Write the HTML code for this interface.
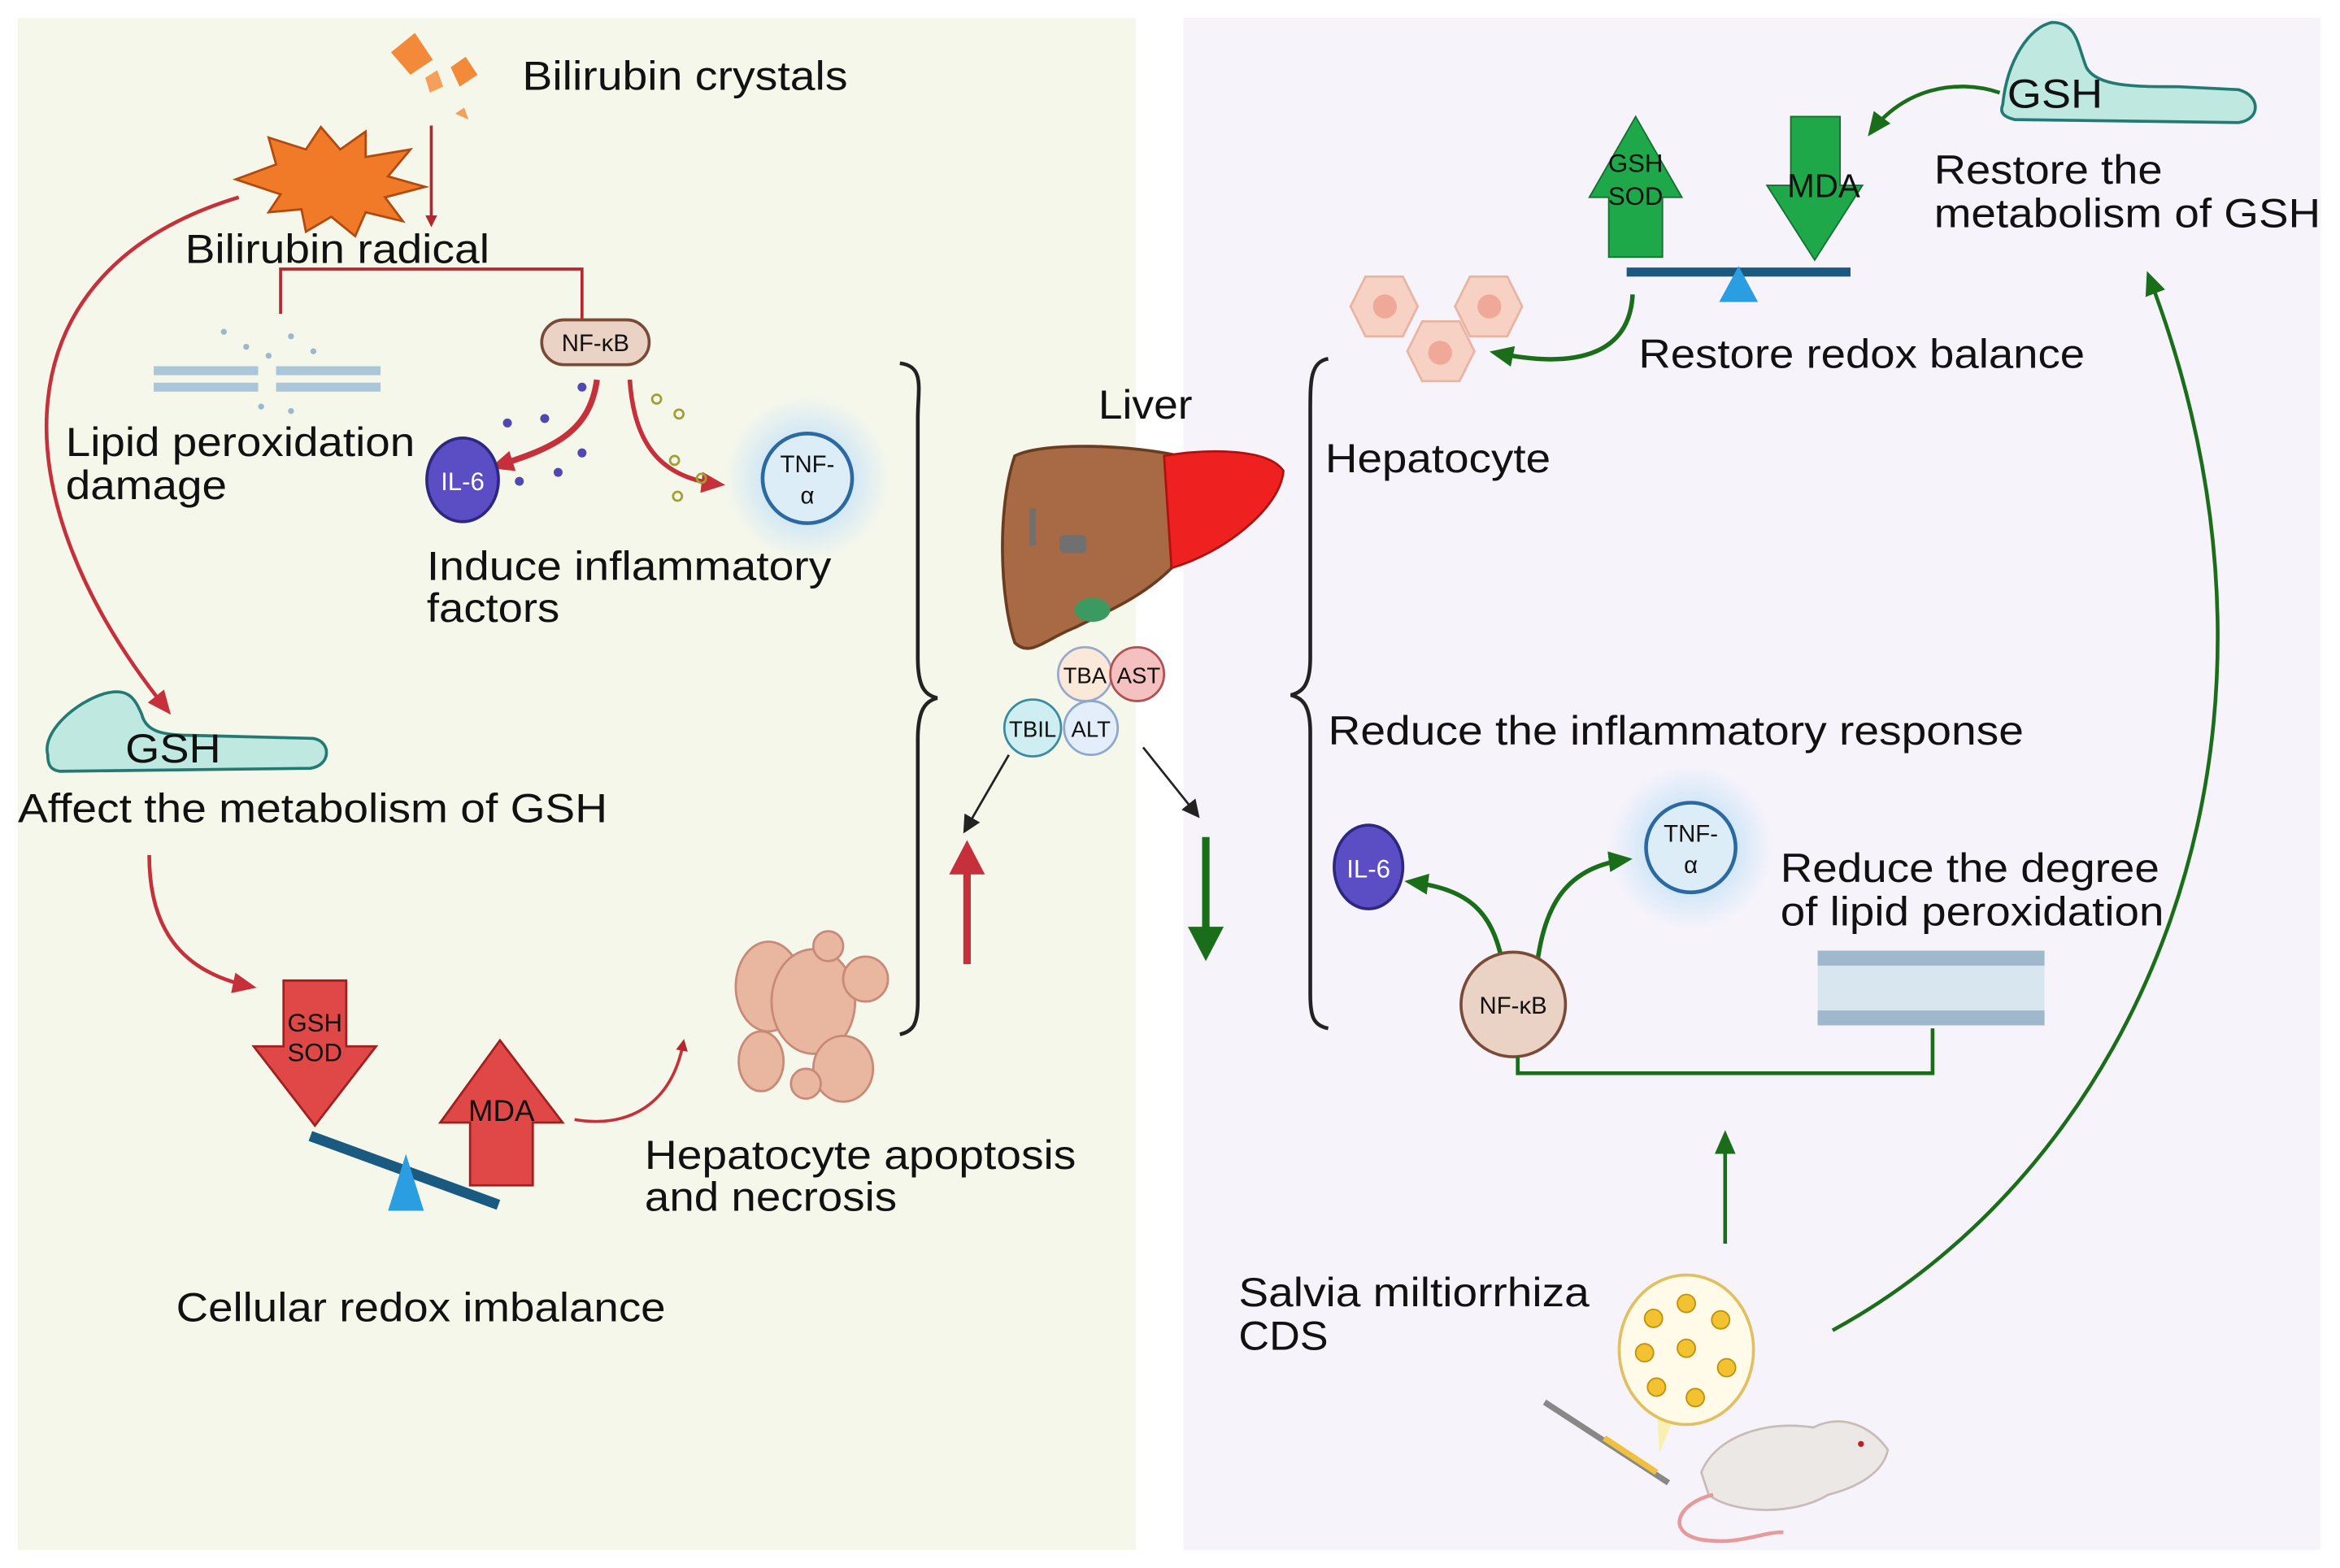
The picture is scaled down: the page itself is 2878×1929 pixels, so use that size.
<!DOCTYPE html>
<html><head><meta charset="utf-8"><style>
html,body{margin:0;padding:0;background:#fff;}
svg{display:block;}
text{font-family:"Liberation Sans",sans-serif;fill:#111;}
</style></head><body>
<svg width="2878" height="1929" viewBox="0 0 1568 1049" preserveAspectRatio="none" xmlns="http://www.w3.org/2000/svg">
<defs>
<marker id="ar" markerWidth="8" markerHeight="8" refX="6" refY="4" orient="auto" markerUnits="userSpaceOnUse"><path d="M0,0 L8,4 L0,8 Z" fill="#b5262f"/></marker>
<marker id="arB" markerWidth="16" markerHeight="14" refX="12" refY="7" orient="auto" markerUnits="userSpaceOnUse"><path d="M0,0 L16,7 L0,14 Z" fill="#c5303a"/></marker>
<marker id="ag" markerWidth="16" markerHeight="14" refX="12" refY="7" orient="auto" markerUnits="userSpaceOnUse"><path d="M0,0 L16,7 L0,14 Z" fill="#1a6e1a"/></marker>
<marker id="ak" markerWidth="12" markerHeight="12" refX="9" refY="6" orient="auto" markerUnits="userSpaceOnUse"><path d="M0,0 L12,6 L0,12 Z" fill="#222"/></marker>
<radialGradient id="glow"><stop offset="0.5" stop-color="#cfe6f7"/><stop offset="1" stop-color="#cfe6f7" stop-opacity="0"/></radialGradient>
</defs>
<rect x="12" y="12" width="749" height="1025" fill="#f5f7eb"/>
<rect x="793" y="12" width="762" height="1025" fill="#f6f3fb"/>

<path d="M262,35 L278,22 L290,40 L275,50 Z" fill="#f28a3a"/>
<path d="M302,45 L312,38 L320,50 L308,58 Z" fill="#f28a3a"/>
<path d="M285,52 L293,47 L297,58 L288,62Z" fill="#f5a05a"/>
<path d="M305,76 L311,72 L314,80 Z" fill="#f5a05a"/>
<text x="350" y="60" font-size="27" textLength="218" lengthAdjust="spacingAndGlyphs">Bilirubin crystals</text>
<line x1="289" y1="84" x2="289" y2="150" stroke="#b5262f" stroke-width="2" marker-end="url(#ar)"/>
<path d="M158,120 L185,110 L180,92 L205,100 L215,85 L228,100 L245,88 L245,105 L275,100 L260,118 L285,125 L258,132 L270,148 L245,142 L238,158 L222,145 L205,155 L202,140 L180,142 L188,130 Z" fill="#f07a28" stroke="#b04a10" stroke-width="1.5"/>
<text x="124" y="176" font-size="27" textLength="204" lengthAdjust="spacingAndGlyphs">Bilirubin radical</text>
<path d="M188,210 L188,180 L390,180 L390,214" fill="none" stroke="#b5262f" stroke-width="2"/>
<rect x="363" y="214" width="72" height="30" rx="15" fill="#ead2c4" stroke="#7a4a38" stroke-width="2"/>
<text x="399" y="235" font-size="16" text-anchor="middle">NF-κB</text>
<g fill="#a9c7d8"><rect x="103" y="245" width="70" height="6"/><rect x="103" y="256" width="70" height="6"/><rect x="185" y="245" width="70" height="6"/><rect x="185" y="256" width="70" height="6"/></g>
<g fill="#9bb8cc"><circle cx="150" cy="222" r="2"/><circle cx="165" cy="232" r="2"/><circle cx="195" cy="225" r="2"/><circle cx="210" cy="235" r="2"/><circle cx="180" cy="238" r="2"/><circle cx="175" cy="272" r="2"/><circle cx="195" cy="275" r="2"/></g>
<text x="44" y="305" font-size="27" textLength="234" lengthAdjust="spacingAndGlyphs">Lipid peroxidation</text>
<text x="44" y="334" font-size="27" textLength="108" lengthAdjust="spacingAndGlyphs">damage</text>
<path d="M400,254 C395,290 370,300 332,312" fill="none" stroke="#c5303a" stroke-width="4" marker-end="url(#arB)"/>
<path d="M422,254 C425,300 445,320 482,324" fill="none" stroke="#c5303a" stroke-width="3" marker-end="url(#arB)"/>
<g fill="#5048b0"><circle cx="340" cy="283" r="3"/><circle cx="365" cy="280" r="3"/><circle cx="348" cy="322" r="3"/><circle cx="374" cy="316" r="3"/><circle cx="390" cy="303" r="3"/><circle cx="390" cy="259" r="3"/></g>
<g fill="none" stroke="#a0a030" stroke-width="1.5"><circle cx="440" cy="267" r="3"/><circle cx="455" cy="277" r="3"/><circle cx="452" cy="308" r="3"/><circle cx="470" cy="320" r="3"/><circle cx="454" cy="332" r="3"/></g>
<ellipse cx="310" cy="321" rx="24" ry="28" fill="#5b4dc4" stroke="#2e2780" stroke-width="2"/>
<text x="310" y="328" font-size="17" style="fill:#fff" text-anchor="middle">IL-6</text>
<circle cx="541" cy="320" r="55" fill="url(#glow)"/>
<circle cx="541" cy="320" r="30" fill="#dcedf8" stroke="#2a6aa0" stroke-width="2.5"/>
<text x="541" y="316" font-size="16" text-anchor="middle">TNF-</text>
<text x="541" y="337" font-size="16" text-anchor="middle">α</text>
<text x="286" y="388" font-size="27" textLength="271" lengthAdjust="spacingAndGlyphs">Induce inflammatory</text>
<text x="286" y="416" font-size="27" textLength="89" lengthAdjust="spacingAndGlyphs">factors</text>
<path d="M160,132 C0,180 -5,330 112,475" fill="none" stroke="#c5303a" stroke-width="2.5" marker-end="url(#arB)"/>
<path d="M32,505 C28,490 50,470 70,464 C85,460 90,466 95,478 C98,490 110,492 130,492 L210,494 C222,496 222,512 208,514 L40,516 C34,515 32,512 32,505 Z" fill="#bfe8e0" stroke="#237a72" stroke-width="2"/>
<text x="84" y="510" font-size="27" textLength="64" lengthAdjust="spacingAndGlyphs">GSH</text>
<text x="12" y="550" font-size="27" textLength="395" lengthAdjust="spacingAndGlyphs">Affect the metabolism of GSH</text>
<path d="M100,572 C100,620 120,650 168,660" fill="none" stroke="#c5303a" stroke-width="2.5" marker-end="url(#arB)"/>
<path d="M190,656 L232,656 L232,700 L252,700 L211,753 L170,700 L190,700 Z" fill="#e04848" stroke="#a02020" stroke-width="1.5"/>
<text x="211" y="690" font-size="17" text-anchor="middle">GSH</text>
<text x="211" y="710" font-size="17" text-anchor="middle">SOD</text>
<path d="M335,696 L377,751 L357,751 L357,793 L315,793 L315,751 L295,751 Z" fill="#e04848" stroke="#a02020" stroke-width="1.5"/>
<text x="336" y="750" font-size="20" text-anchor="middle">MDA</text>
<line x1="208" y1="760" x2="334" y2="806" stroke="#1a5a80" stroke-width="7"/>
<path d="M272,772 L284,810 L260,810 Z" fill="#2a9ee0"/>
<path d="M385,749 C420,755 450,740 458,697" fill="none" stroke="#c5303a" stroke-width="2" marker-end="url(#ar)"/>
<text x="118" y="884" font-size="27" textLength="328" lengthAdjust="spacingAndGlyphs">Cellular redox imbalance</text>
<g fill="#e9b6a0" stroke="#c88a78" stroke-width="1.5">
<ellipse cx="515" cy="660" rx="22" ry="30"/><ellipse cx="545" cy="670" rx="28" ry="35"/><circle cx="580" cy="655" r="15"/><circle cx="555" cy="633" r="10"/><ellipse cx="565" cy="715" rx="20" ry="22"/><ellipse cx="510" cy="710" rx="15" ry="20"/><circle cx="540" cy="725" r="10"/></g>
<text x="432" y="782" font-size="27" textLength="289" lengthAdjust="spacingAndGlyphs">Hepatocyte apoptosis</text>
<text x="432" y="810" font-size="27" textLength="169" lengthAdjust="spacingAndGlyphs">and necrosis</text>
<path d="M603,243 C620,245 615,260 615,280 L615,440 C615,460 620,465 628,467 C620,469 615,475 615,495 L615,670 C615,685 612,690 603,692" fill="none" stroke="#222" stroke-width="2.5"/>
<line x1="648" y1="645" x2="648" y2="580" stroke="#c5303a" stroke-width="5"/>
<path d="M636,585 L648,562 L660,585 Z" fill="#c5303a"/>
<line x1="676" y1="505" x2="647" y2="555" stroke="#222" stroke-width="1.5" marker-end="url(#ak)"/>
<line x1="766" y1="500" x2="802" y2="545" stroke="#222" stroke-width="1.5" marker-end="url(#ak)"/>
<text x="736" y="280" font-size="27" textLength="63" lengthAdjust="spacingAndGlyphs">Liver</text>
<path d="M680,305 C700,295 760,298 790,305 L785,380 C765,400 740,410 720,420 C700,428 690,440 680,430 C670,400 668,340 680,305 Z" fill="#a86a44" stroke="#6a3c20" stroke-width="2"/>
<path d="M780,305 C810,300 850,300 860,315 C858,340 820,370 785,380 Z" fill="#ee2020" stroke="#b01010" stroke-width="1.5"/>
<rect x="710" y="358" width="18" height="12" rx="3" fill="#707070"/>
<rect x="690" y="340" width="4" height="25" fill="#707070"/>
<ellipse cx="732" cy="408" rx="12" ry="8" fill="#3a9a60"/>
<circle cx="727" cy="451" r="18" fill="#fae8d8" stroke="#9aa8d0" stroke-width="1.5"/>
<circle cx="762" cy="451" r="18" fill="#f4c0c0" stroke="#b05050" stroke-width="1.5"/>
<text x="727" y="457" font-size="15" text-anchor="middle">TBA</text>
<text x="763" y="457" font-size="15" text-anchor="middle">AST</text>
<circle cx="692" cy="487" r="19" fill="#cfeef2" stroke="#3a8aa0" stroke-width="1.5"/>
<circle cx="731" cy="487" r="18" fill="#e4eefa" stroke="#8aa8d0" stroke-width="1.5"/>
<text x="692" y="493" font-size="15" text-anchor="middle">TBIL</text>
<text x="731" y="493" font-size="15" text-anchor="middle">ALT</text>
<line x1="808" y1="560" x2="808" y2="625" stroke="#1a6e1a" stroke-width="5"/>
<path d="M796,620 L808,643 L820,620 Z" fill="#1a6e1a"/>
<path d="M890,240 C878,242 878,255 878,275 L878,440 C878,458 873,463 865,465 C873,467 878,472 878,490 L878,665 C878,680 880,686 890,688" fill="none" stroke="#222" stroke-width="2.5"/>
<g fill="#f7d2c4" stroke="#e8b4a4" stroke-width="1.5">
<path d="M905,205 L915,185 L940,185 L950,205 L940,225 L915,225 Z"/><path d="M975,205 L985,185 L1010,185 L1020,205 L1010,225 L985,225 Z"/><path d="M943,235 L953,215 L978,215 L988,235 L978,255 L953,255 Z"/></g>
<g fill="#f0a898"><circle cx="928" cy="205" r="8"/><circle cx="998" cy="205" r="8"/><circle cx="965" cy="236" r="8"/></g>
<text x="888" y="316" font-size="27" textLength="151" lengthAdjust="spacingAndGlyphs">Hepatocyte</text>
<path d="M1096,78 L1127,132 L1114,132 L1114,172 L1078,172 L1078,132 L1065,132 Z" fill="#1fa84a" stroke="#137030" stroke-width="1"/>
<text x="1096" y="115" font-size="17" text-anchor="middle">GSH</text>
<text x="1096" y="137" font-size="17" text-anchor="middle">SOD</text>
<path d="M1200,78 L1233,78 L1233,124 L1248,124 L1216,174 L1184,124 L1200,124 Z" fill="#1fa84a" stroke="#137030" stroke-width="1"/>
<text x="1222" y="132" font-size="22" text-anchor="middle">MDA</text>
<line x1="1090" y1="182" x2="1240" y2="182" stroke="#1a5a80" stroke-width="6"/>
<path d="M1165,178 L1178,202 L1152,202 Z" fill="#2a9ee0"/>
<path d="M1094,197 C1092,235 1060,248 1002,236" fill="none" stroke="#1a6e1a" stroke-width="3" marker-end="url(#ag)"/>
<text x="1098" y="246" font-size="27" textLength="299" lengthAdjust="spacingAndGlyphs">Restore redox balance</text>
<path d="M1342,70 C1345,40 1360,18 1375,15 C1392,15 1392,30 1398,45 C1405,58 1430,58 1460,58 L1500,60 C1515,64 1515,80 1500,82 L1350,80 C1342,78 1340,75 1342,70 Z" fill="#bfe8e0" stroke="#237a72" stroke-width="2"/>
<text x="1345" y="72" font-size="27" textLength="64" lengthAdjust="spacingAndGlyphs">GSH</text>
<path d="M1340,62 C1310,52 1275,60 1254,88" fill="none" stroke="#1a6e1a" stroke-width="2.5" marker-end="url(#ag)"/>
<text x="1296" y="123" font-size="27" textLength="153" lengthAdjust="spacingAndGlyphs">Restore the</text>
<text x="1296" y="152" font-size="27" textLength="259" lengthAdjust="spacingAndGlyphs">metabolism of GSH</text>
<path d="M1228,890 C1430,780 1560,500 1440,185" fill="none" stroke="#1a6e1a" stroke-width="2.5" marker-end="url(#ag)"/>
<text x="890" y="498" font-size="27" textLength="466" lengthAdjust="spacingAndGlyphs">Reduce the inflammatory response</text>
<ellipse cx="917" cy="580" rx="23" ry="28" fill="#5b4dc4" stroke="#2e2780" stroke-width="2"/>
<text x="917" y="587" font-size="17" style="fill:#fff" text-anchor="middle">IL-6</text>
<circle cx="1133" cy="567" r="55" fill="url(#glow)"/>
<circle cx="1133" cy="567" r="30" fill="#dcedf8" stroke="#2a6aa0" stroke-width="2.5"/>
<text x="1133" y="563" font-size="16" text-anchor="middle">TNF-</text>
<text x="1133" y="584" font-size="16" text-anchor="middle">α</text>
<path d="M1007,645 C1000,610 985,595 945,590" fill="none" stroke="#1a6e1a" stroke-width="3" marker-end="url(#ag)"/>
<path d="M1030,645 C1035,605 1050,580 1090,575" fill="none" stroke="#1a6e1a" stroke-width="3" marker-end="url(#ag)"/>
<circle cx="1014" cy="672" r="35" fill="#ead2c4" stroke="#7a4a38" stroke-width="2"/>
<text x="1014" y="678" font-size="16" text-anchor="middle">NF-κB</text>
<text x="1193" y="590" font-size="27" textLength="254" lengthAdjust="spacingAndGlyphs">Reduce the degree</text>
<text x="1193" y="619" font-size="27" textLength="257" lengthAdjust="spacingAndGlyphs">of lipid peroxidation</text>
<rect x="1218" y="636" width="152" height="50" fill="#d8e6f0"/>
<rect x="1218" y="636" width="152" height="10" fill="#9fb8cc"/>
<rect x="1218" y="676" width="152" height="10" fill="#9fb8cc"/>
<path d="M1017,707 L1017,718 L1295,718 L1295,688" fill="none" stroke="#1a6e1a" stroke-width="2.5"/>
<line x1="1156" y1="832" x2="1156" y2="760" stroke="#1a6e1a" stroke-width="2.5" marker-end="url(#ag)"/>
<text x="830" y="874" font-size="27" textLength="235" lengthAdjust="spacingAndGlyphs">Salvia miltiorrhiza</text>
<text x="830" y="903" font-size="27" textLength="60" lengthAdjust="spacingAndGlyphs">CDS</text>
<path d="M1110,940 L1125,940 L1112,972 Z" fill="#f8f0b0"/>
<ellipse cx="1130" cy="903" rx="45" ry="50" fill="#fffbe8" stroke="#e0c060" stroke-width="2"/>
<g fill="#f2c230" stroke="#c09010"><circle cx="1108" cy="882" r="6"/><circle cx="1130" cy="872" r="6"/><circle cx="1153" cy="883" r="6"/><circle cx="1102" cy="905" r="6"/><circle cx="1130" cy="902" r="6"/><circle cx="1157" cy="915" r="6"/><circle cx="1110" cy="928" r="6"/><circle cx="1136" cy="935" r="6"/></g>
<path d="M1140,985 C1150,960 1185,950 1215,955 C1235,945 1255,955 1265,970 C1262,985 1245,995 1225,1000 C1200,1015 1160,1012 1145,1000 Z" fill="#ece8e6" stroke="#c8bcb8" stroke-width="1.5"/>
<path d="M1148,1000 C1125,1005 1115,1025 1140,1030 C1165,1034 1180,1025 1195,1025" fill="none" stroke="#e69a9a" stroke-width="2.5"/>
<circle cx="1247" cy="966" r="2" fill="#c02020"/>
<line x1="1035" y1="938" x2="1118" y2="992" stroke="#888" stroke-width="4"/>
<line x1="1075" y1="962" x2="1110" y2="985" stroke="#f0c040" stroke-width="4"/>
</svg>
</body></html>
